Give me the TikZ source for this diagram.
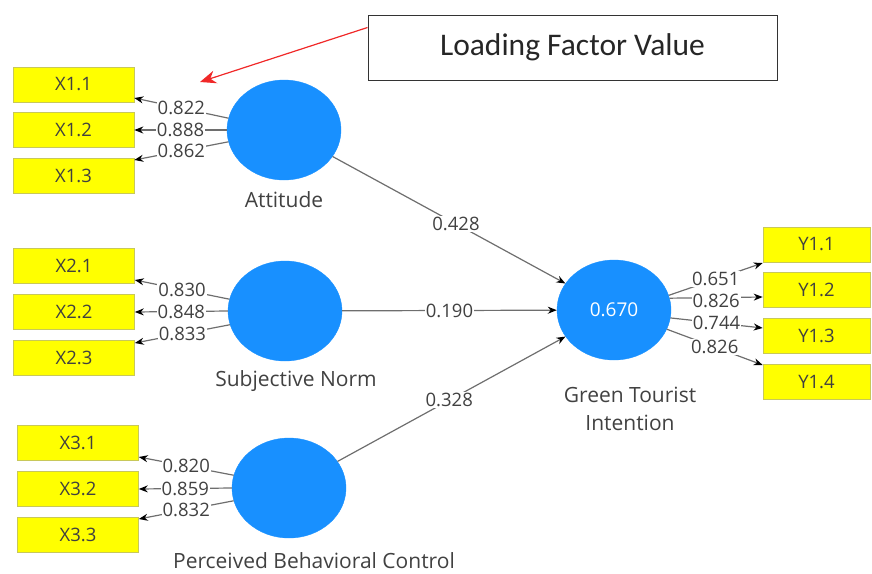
\documentclass[tikz,border=0pt]{standalone}
\usepackage{fontspec}
\setmainfont{Open Sans}
\newfontfamily\calloutfont{Carlito}
\usetikzlibrary{arrows.meta,shapes.geometric,calc}
\definecolor{lvblue}{RGB}{24,144,255}
\definecolor{indy}{RGB}{255,255,0}
\definecolor{indyedge}{RGB}{200,200,90}
\definecolor{txtgray}{RGB}{65,65,65}
\definecolor{linegray}{RGB}{110,110,110}
\definecolor{callred}{RGB}{240,40,40}
\begin{document}
\begin{tikzpicture}[x=1pt,y=-1pt,
  latent/.style={ellipse, fill=lvblue, draw=lvblue, minimum width=114pt, minimum height=100pt, inner sep=0pt},
  indic/.style={rectangle, fill=indy, draw=indyedge, line width=0.6pt, minimum width=121pt, minimum height=35pt, inner sep=0pt, text=black!75, font=\fontsize{18.5}{20}\selectfont},
  yindic/.style={indic, minimum width=107pt},
  load/.style={draw=linegray, line width=1.2pt, -{Stealth[black,length=9pt,width=7pt]}},
  coef/.style={fill=white, inner sep=1pt, text=txtgray, font=\fontsize{18.5}{20}\selectfont},
  lvcap/.style={text=txtgray, font=\fontsize{21}{28}\selectfont, align=center}]
\useasboundingbox (0,0) rectangle (872,573);

% latent variables
\node[latent] (att) at (284,130) {};
\node[latent] (sn) at (285,311) {};
\node[latent] (pbc) at (289,488) {};
\node[latent, text=white, font=\fontsize{19}{20}\selectfont] (gti) at (614,310) {0.670};

\node[lvcap] (attlab) at (284,200) {Attitude};
\node[lvcap] (snlab) at (296,381) {Subjective Norm};
\node[lvcap] (pbclab) at (314,561) {Perceived Behavioral Control};
\node[lvcap] (gtilab) at (630,409) {Green Tourist\\Intention};

% indicators
\node[indic] (x11) at (73.5,84.5) {X1.1};
\node[indic] (x12) at (73.5,130) {X1.2};
\node[indic] (x13) at (73.5,176) {X1.3};
\node[indic] (x21) at (74,265.5) {X2.1};
\node[indic] (x22) at (74,312) {X2.2};
\node[indic] (x23) at (74,358) {X2.3};
\node[indic] (x31) at (78,442.5) {X3.1};
\node[indic] (x32) at (78,489) {X3.2};
\node[indic] (x33) at (78,535) {X3.3};
\node[yindic] (y11) at (816.5,244.5) {Y1.1};
\node[yindic] (y12) at (816.5,290) {Y1.2};
\node[yindic] (y13) at (816.5,335.5) {Y1.3};
\node[yindic] (y14) at (816.5,381.5) {Y1.4};

% outer loadings
\draw[load] (att.168) -- node[coef]{0.822} ([yshift=-13.5pt]x11.east);
\draw[load] (att.180) -- node[coef]{0.888} (x12.east);
\draw[load] (att.192) -- node[coef]{0.862} ([yshift=16pt]x13.east);
\draw[load] (sn.168) -- node[coef]{0.830} ([yshift=-14.5pt]x21.east);
\draw[load] (sn.180) -- node[coef]{0.848} (x22.east);
\draw[load] (sn.194) -- node[coef]{0.833} ([yshift=15pt]x23.east);
\draw[load] (pbc.167) -- node[coef]{0.820} ([yshift=-14.5pt]x31.east);
\draw[load] (pbc.180) -- node[coef]{0.859} (x32.east);
\draw[load] (pbc.193) -- node[coef]{0.832} ([yshift=16pt]x33.east);

\draw[load] (gti.15) -- node[coef]{0.651} ([yshift=-18.5pt]y11.west);
\draw[load] (gti.12) -- node[coef,yshift=-3pt]{0.826} ([yshift=-7pt]y12.west);
\draw[load] (gti.-8) -- node[coef]{0.744} ([yshift=7.5pt]y13.west);
\draw[load] (gti.-20) -- node[coef]{0.826} ([yshift=16.5pt]y14.west);

% path coefficients
\draw[load] (att) -- node[coef,pos=0.53]{0.428} (gti);
\draw[load] (sn) -- node[coef,pos=0.5]{0.190} (gti);
\draw[load] (pbc) -- node[coef,pos=0.49]{0.328} (gti);

% callout
\node[draw=black!80, line width=1pt, minimum width=409pt, minimum height=65pt, inner sep=0pt, text=black!85, font=\calloutfont\fontsize{31.5}{34}\selectfont] (lfv) at (572.5,47.5) {Loading Factor Value};
\coordinate (lftip) at (200,82);
\draw[callred, line width=1.2pt, -{Stealth[length=16pt,width=13pt]}] ($(lfv.north west)+(0,13)$) -- (lftip);
\end{tikzpicture}
\end{document}
